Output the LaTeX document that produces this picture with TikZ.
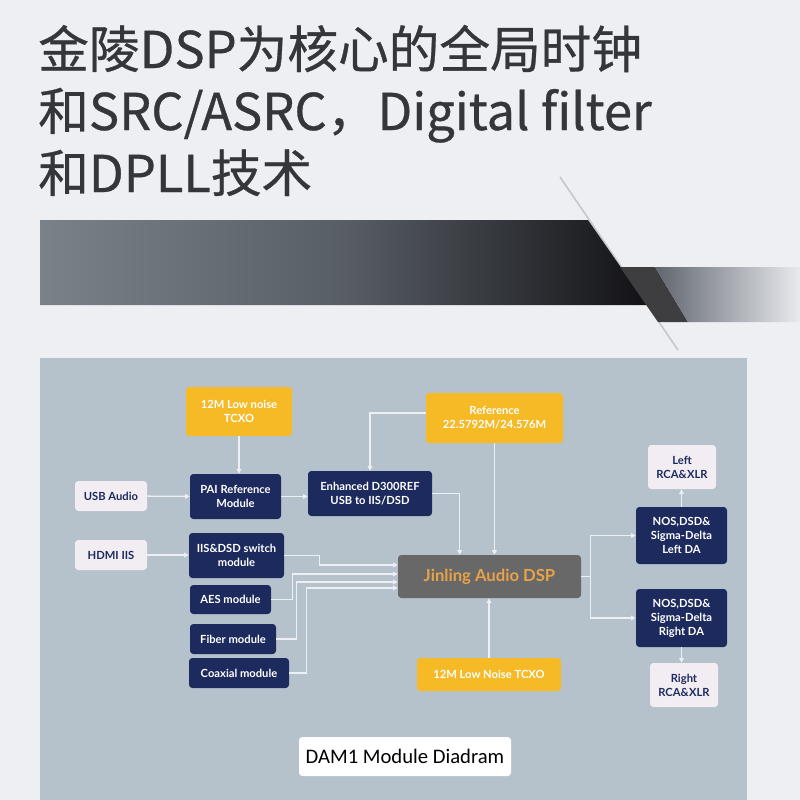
\documentclass[tikz,border=0pt]{standalone}
\usepackage{fontspec}
\setmainfont{Lato}
\newfontfamily\cjk{Noto Sans CJK SC}[FakeBold=0.6]
\newfontfamily\capfont{Carlito}
\usetikzlibrary{arrows.meta,calc}

\definecolor{pagebg}{RGB}{237,239,242}
\definecolor{panelc}{RGB}{181,193,203}
\definecolor{navyc}{RGB}{28,42,94}
\definecolor{yellowc}{RGB}{245,186,38}
\definecolor{palec}{RGB}{241,237,242}
\definecolor{dspc}{RGB}{104,104,104}
\definecolor{dsptext}{RGB}{232,162,72}
\definecolor{flowc}{RGB}{236,239,243}
\definecolor{titlec}{RGB}{52,54,58}
\definecolor{barl}{RGB}{122,129,137}
\definecolor{barm}{RGB}{88,94,101}
\definecolor{bard}{RGB}{18,18,22}
\definecolor{stepc}{RGB}{62,62,64}
\definecolor{fadel}{RGB}{96,101,110}
\definecolor{fader}{RGB}{232,234,238}
\definecolor{edgec}{RGB}{196,199,204}

\begin{document}
\begin{tikzpicture}[x=0.75pt,y=0.75pt,yscale=-1,xscale=1,
  box/.style={rounded corners=2.5pt,inner sep=0pt,align=center,font=\bfseries\fontsize{8.4}{10.5}\selectfont},
  navybox/.style={box,fill=navyc,text=white},
  xtalbox/.style={box,fill=yellowc,text=white},
  portbox/.style={box,fill=palec,text=navyc},
  headline/.style={anchor=base west,inner sep=0pt,text=titlec,font=\cjk\fontsize{38}{38}\selectfont},
  flow/.style={draw=flowc,line width=1pt,-{Triangle[length=3.5pt,width=3.5pt]}}]

    % page, heading band
    \fill [pagebg] (0,0) rectangle (800,800) ;
    \useasboundingbox (0,0) rectangle (800,800) ;
    \draw [edgec,line width=1.2pt] (560,177) -- (678,350) ;
    \shade [left color=barl,right color=bard,middle color=barm] (40,220) -- (588,220) -- (647,305) -- (40,305) -- cycle ;
    \fill [stepc] (620,267) -- (655,267) -- (688,322) -- (658,322) -- cycle ;
    \shade [left color=fadel,right color=fader] (655,267) -- (800,267) -- (800,322) -- (688,322) -- cycle ;

    \node [headline] (head1) at (38,68) {金陵DSP为核心的全局时钟};
    \node [headline] (head2) at (38,130) {和SRC/ASRC，Digital filter};
    \node [headline] (head3) at (38,192) {和DPLL技术};

    % diagram panel
    \fill [panelc] (40,358) rectangle (747,800) ;

    % blocks
    \node [xtalbox,minimum width=106*0.75pt,minimum height=49*0.75pt] (tcxoA) at (239,411.5) {12M Low noise\\TCXO};
    \node [portbox,minimum width=72*0.75pt,minimum height=30*0.75pt] (usb) at (111,496) {USB Audio};
    \node [navybox,minimum width=91*0.75pt,minimum height=45*0.75pt] (pai) at (235.5,496.5) {PAI Reference\\Module};
    \node [navybox,minimum width=124*0.75pt,minimum height=45*0.75pt] (dref) at (370,493.5) {Enhanced D300REF\\USB to IIS/DSD};
    \node [xtalbox,minimum width=137*0.75pt,minimum height=50*0.75pt] (ref) at (494.5,418) {Reference\\22.5792M/24.576M};
    \node [portbox,minimum width=72*0.75pt,minimum height=30*0.75pt] (hdmi) at (111,555) {HDMI IIS};
    \node [navybox,minimum width=95*0.75pt,minimum height=45*0.75pt] (iis) at (236.5,555.5) {IIS\&DSD switch\\module};
    \node [navybox,minimum width=81*0.75pt,minimum height=29*0.75pt] (aes) at (230.5,599.5) {AES module};
    \node [navybox,minimum width=86*0.75pt,minimum height=30*0.75pt] (fiber) at (233,639) {Fiber module};
    \node [navybox,minimum width=100*0.75pt,minimum height=30*0.75pt] (coax) at (239,673) {Coaxial module};
    \node [box,fill=dspc,text=dsptext,font=\bfseries\fontsize{12.5}{14}\selectfont,minimum width=183*0.75pt,minimum height=43*0.75pt] (dsp) at (489.5,576.5) {Jinling Audio DSP};
    \node [xtalbox,minimum width=144*0.75pt,minimum height=33*0.75pt] (tcxoB) at (489,674.5) {12M Low Noise TCXO};
    \node [portbox,minimum width=68*0.75pt,minimum height=44*0.75pt] (lrca) at (682,467) {Left\\RCA\&XLR};
    \node [navybox,minimum width=91*0.75pt,minimum height=57*0.75pt] (lda) at (681.5,535.5) {NOS,DSD\&\\Sigma-Delta\\Left DA};
    \node [navybox,minimum width=91*0.75pt,minimum height=58*0.75pt] (rda) at (681.5,618) {NOS,DSD\&\\Sigma-Delta\\Right DA};
    \node [portbox,minimum width=68*0.75pt,minimum height=44*0.75pt] (rrca) at (684,685) {Right\\RCA\&XLR};
    \node [box,fill=white,text=black,font=\capfont\fontsize{15.5}{17}\selectfont,minimum width=212*0.75pt,minimum height=39*0.75pt] (caption) at (405,756.5) {DAM1 Module Diadram};

    % signal flow
    \draw [flow] (tcxoA.south) -- (tcxoA.south |- pai.north) ;
    \draw [flow] (usb) -- (pai) ;
    \draw [flow] (pai.east) -- (pai.east -| dref.west) ;
    \draw [flow] ($(ref.west)+(0,-5)$) -| (dref.north) ;
    \draw [flow] (ref.south) -- (ref.south |- dsp.north) ;
    \draw [flow] (dref.east) -| ($(dsp.north west)+(62,0)$) ;
    \draw [flow] (hdmi) -- (hdmi -| iis.west) ;
    \draw [flow] (iis.east) -- ++(35,0) |- ($(dsp.west)+(0,-11.5)$) ;
    \draw [flow] (aes.east) -- ++(21,0) |- ($(dsp.west)+(0,-2.5)$) ;
    \draw [flow] (fiber.east) -- ++(20,0) |- ($(dsp.west)+(0,5.5)$) ;
    \draw [flow] (coax.east) -- ++(17,0) |- ($(dsp.west)+(0,11.5)$) ;
    \draw [flow] (tcxoB.north) -- (tcxoB.north |- dsp.south) ;
    \draw [flow] (dsp.east) -- ++(9,0) |- (lda.west) ;
    \draw [flow] (dsp.east) -- ++(9,0) |- (rda.west) ;
    \draw [flow] (lda.north) -- (lda.north |- lrca.south) ;
    \draw [flow] (rda.south) -- (rda.south |- rrca.north) ;
\end{tikzpicture}
\end{document}
